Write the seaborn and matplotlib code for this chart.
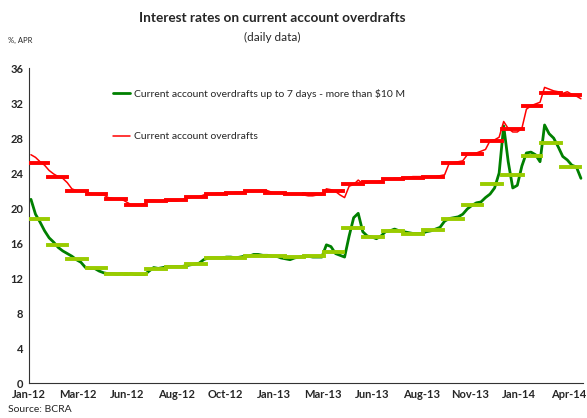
import numpy as np
import pandas as pd
import seaborn as sns
import matplotlib.pyplot as plt

# weekly readings (%, APR), first Friday of Jan-12 onwards
weeks = pd.date_range("2012-01-06", periods=122, freq="7D")

overdrafts = [
    26.1, 25.8, 25.3, 24.9, 24.3, 23.9, 23.6, 23.4, 22.9, 22.2,
    22.0, 21.9, 21.9, 21.7, 21.6, 21.5, 21.5, 21.2, 21.1, 21.0,
    21.0, 20.7, 20.4, 20.4, 20.4, 20.5, 20.9, 20.9, 20.8, 20.8,
    20.8, 20.8, 20.8, 20.9, 21.1, 21.2, 21.3, 21.3, 21.5, 21.6,
    21.6, 21.7, 21.7, 21.7, 21.7, 21.8, 21.8, 21.9, 21.9, 21.9,
    22.0, 22.0, 22.0, 21.8, 21.7, 21.7, 21.6, 21.6, 21.6, 21.6,
    21.5, 21.4, 21.4, 21.5, 21.5, 22.2, 22.1, 21.9, 21.5, 21.2,
    22.5, 22.7, 23.2, 22.8, 22.9, 23.0, 23.0, 23.1, 23.3, 23.3,
    23.4, 23.4, 23.4, 23.5, 23.6, 23.6, 23.6, 23.6, 23.6, 23.6,
    23.7, 23.8, 25.1, 25.2, 25.3, 25.4, 26.1, 26.2, 26.3, 26.5,
    26.7, 27.7, 27.8, 28.1, 29.9, 29.1, 28.7, 28.7, 29.1, 31.3,
    31.7, 31.9, 32.1, 33.8, 33.6, 33.4, 33.3, 33.1, 33.3, 33.0,
    32.8, 32.5,
]

overdrafts_7d = [
    21.0, 19.3, 18.4, 17.4, 16.6, 16.1, 15.5, 15.1, 14.8, 14.5,
    14.1, 13.8, 13.2, 13.1, 13.1, 12.8, 12.6, 12.5, 12.5, 12.45,
    12.5, 12.4, 12.5, 12.4, 12.4, 12.4, 12.8, 13.2, 13.1, 13.2,
    13.3, 13.3, 13.3, 13.3, 13.4, 13.5, 13.6, 13.7, 14.1, 14.3,
    14.3, 14.3, 14.3, 14.4, 14.4, 14.3, 14.4, 14.5, 14.5, 14.7,
    14.7, 14.6, 14.6, 14.5, 14.5, 14.3, 14.2, 14.1, 14.3, 14.4,
    14.5, 14.5, 14.4, 14.4, 14.4, 15.8, 15.6, 14.8, 14.6, 14.4,
    16.8, 18.9, 19.4, 17.3, 16.8, 16.7, 16.5, 16.8, 17.3, 17.4,
    17.6, 17.4, 17.3, 17.2, 17.1, 17.1, 17.1, 17.3, 17.4, 17.6,
    17.8, 18.5, 18.8, 18.9, 19.0, 19.3, 19.9, 20.3, 20.6, 20.7,
    21.2, 21.6, 22.3, 24.0, 29.4, 25.3, 22.3, 22.6, 24.8, 26.3,
    26.4, 26.1, 25.3, 29.5, 28.5, 28.0, 27.0, 25.9, 25.5, 24.9,
    24.7, 23.4,
]

# monthly averages, Jan-12 .. Apr-14
months = pd.date_range("2012-01-01", "2014-04-01", freq="MS")
overdrafts_avg = [
    25.2, 23.5, 22.0, 21.6, 21.0, 20.4, 20.8, 20.9, 21.3, 21.6, 21.7, 21.9,
    21.75, 21.6, 21.6, 21.9, 22.7, 23.0, 23.3, 23.45, 23.6, 25.1, 26.2, 27.7,
    29.0, 31.7, 33.2, 32.9,
]
overdrafts_7d_avg = [
    18.7, 15.8, 14.2, 13.1, 12.5, 12.45, 13.0, 13.3, 13.65, 14.25, 14.3, 14.5,
    14.5, 14.4, 14.5, 15.0, 17.7, 16.75, 17.4, 17.0, 17.5, 18.8, 20.3, 22.7,
    23.75, 26.0, 27.4, 24.7,
]

tick_labels = ["Jan-12", "Mar-12", "Jun-12", "Aug-12", "Oct-12", "Jan-13",
               "Mar-13", "Jun-13", "Aug-13", "Nov-13", "Jan-14", "Apr-14"]

label_7d = "Current account overdrafts up to 7 days - more than $10 M"
label_all = "Current account overdrafts"

df = pd.DataFrame({"date": weeks, "all": overdrafts, "d7": overdrafts_7d})

sns.set_style("white")
plt.rcParams["font.family"] = ["Lato", "DejaVu Sans"]

fig, ax = plt.subplots(figsize=(5.87, 4.18), dpi=100)
fig.subplots_adjust(left=0.0494, right=0.993, bottom=0.0837, top=0.837)

sns.lineplot(data=df, x="date", y="d7", color="#008000", lw=2, label=label_7d, ax=ax)
sns.lineplot(data=df, x="date", y="all", color="#ff0000", lw=1.1, label=label_all, ax=ax)

# monthly average bars
month_end = months + pd.offsets.MonthBegin(1)
g = ax.hlines(overdrafts_7d_avg, months, month_end, colors="#99cc00", lw=2.8, zorder=3)
r = ax.hlines(overdrafts_avg, months, month_end, colors="#ff0000", lw=2.8, zorder=3)
for lc in (g, r):
    lc.set_capstyle("projecting")

start = pd.Timestamp("2012-01-03")
ticks = [start + pd.Timedelta(days=75.5 * k) for k in range(len(tick_labels))]
ax.set_xticks(ticks)
ax.set_xticklabels(tick_labels, fontweight="bold", fontsize=8)
ax.set_xlim(start, pd.Timestamp("2014-05-05"))
ax.set_ylim(0, 36)
ax.set_yticks(range(0, 37, 4))
ax.set_yticklabels([str(v) for v in range(0, 37, 4)], fontweight="bold", fontsize=8)
ax.tick_params(direction="in", length=3, width=0.8, color="#333333", pad=4)
ax.set_xlabel("")
ax.set_ylabel("")
sns.despine(ax=ax)
for s in ("left", "bottom"):
    ax.spines[s].set_color("#333333")
    ax.spines[s].set_linewidth(0.8)

ax.legend(loc="upper left", bbox_to_anchor=(0.152, 0.935), frameon=False,
          fontsize=7.5, handlelength=1.6, handletextpad=0.4, labelspacing=3.2,
          borderpad=0, borderaxespad=0)

fig.text(0.463, 0.957, "Interest rates on current account overdrafts",
         ha="center", va="center", fontsize=9.8, fontweight="bold")
fig.text(0.463, 0.911, "(daily data)", ha="center", va="center", fontsize=8.5)
fig.text(0.014, 0.904, "%, APR", ha="left", va="center", fontsize=5.5)
fig.text(0.014, 0.02, "Source: BCRA", ha="left", va="center", fontsize=7.5)

fig.savefig("out.png", dpi=100)
